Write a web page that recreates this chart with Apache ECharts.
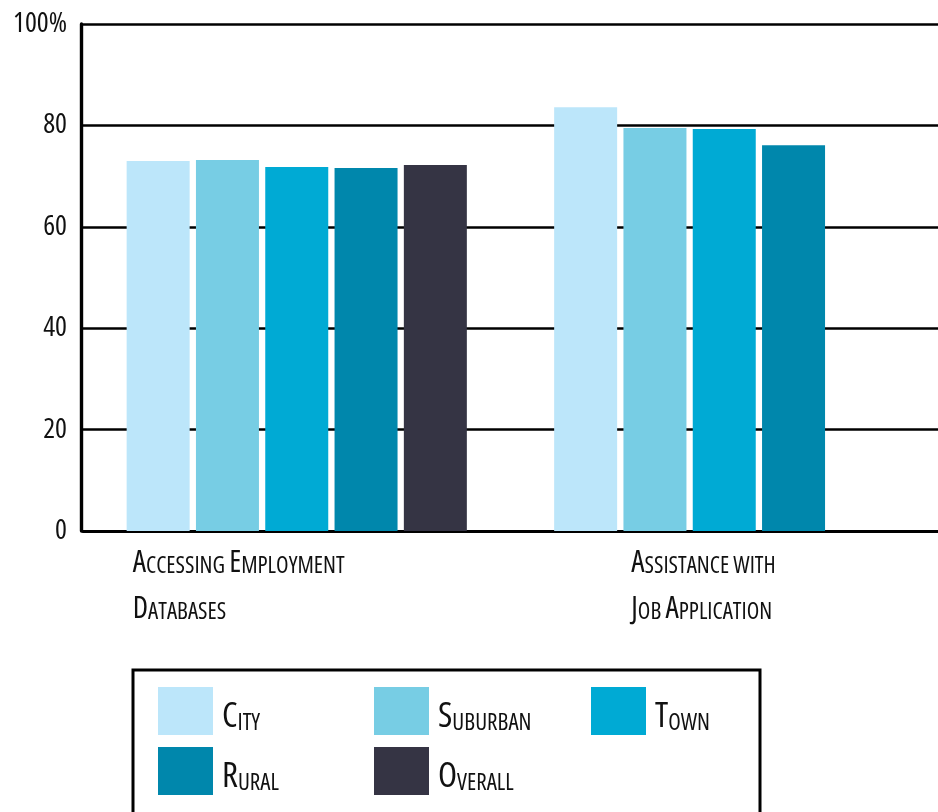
<!DOCTYPE html>
<html>
<head>
<meta charset="utf-8">
<script src="https://cdn.jsdelivr.net/npm/echarts@6/dist/echarts.min.js"></script>
<style>
  html, body { margin: 0; padding: 0; background: #fff; }
  #chart { width: 938px; height: 812px; }
</style>
</head>
<body>
<div id="chart"></div>
<script>
// Survey results by locale, percent of libraries offering each service
const categories = ['Accessing Employment\nDatabases', 'Assistance with\nJob Application'];
const seriesNames = ['City', 'Suburban', 'Town', 'Rural', 'Overall'];
const cityValues = [73.0, 83.6];
const suburbanValues = [73.2, 79.5];
const townValues = [71.8, 79.3];
const ruralValues = [71.6, 76.1];
const overallValues = [72.2, null];
const yTicks = [0, 20, 40, 60, 80, 100];

const seriesValues = [cityValues, suburbanValues, townValues, ruralValues, overallValues];
const colors = ['#bce6fa', '#77cde4', '#00aad4', '#0087ac', '#353444'];
const FAMILY = '"Open Sans", "DejaVu Sans", sans-serif';
const STRETCH = 'condensed';   // selects the condensed face through the font shorthand
const INK = '#111';

// Small-caps look: initial capitals large, the rest as smaller capitals
function smallCaps(text) {
  return text.split('\n').map(line => line.split(' ').map(word => {
    const first = word[0];
    if (first !== first.toLowerCase()) {
      return '{big|' + first + '}' + (word.length > 1 ? '{sm|' + word.slice(1).toUpperCase() + '}' : '');
    }
    return '{sm|' + word.toUpperCase() + '}';
  }).join('{sm| }')).join('\n');
}

function capsRich(bigSize, smSize, bigPadTop) {
  const base = { fontFamily: FAMILY, fontWeight: STRETCH, color: INK, fill: INK, verticalAlign: 'bottom' };
  return {
    big: Object.assign({}, base, { fontSize: bigSize, padding: [bigPadTop, 0, 0, 0] }),
    sm: Object.assign({}, base, { fontSize: smSize })
  };
}

const chart = echarts.init(document.getElementById('chart'), null, { renderer: 'canvas' });

// Legend laid out as three columns
const legendColumns = [['City', 'Rural'], ['Suburban', 'Overall'], ['Town']];
const legendLeft = [158, 374, 591];
const legends = legendColumns.map((names, i) => ({
  left: legendLeft[i],
  top: 687,
  orient: 'vertical',
  icon: 'rect',
  itemWidth: 55,
  itemHeight: 48,
  itemGap: 12,
  padding: 0,
  data: names,
  formatter: name => smallCaps(name),
  textStyle: {
    fontFamily: FAMILY,
    fontWeight: STRETCH,
    color: INK,
    padding: [13, 0, 0, 4],
    rich: capsRich(35, 23, 0)
  }
}));

chart.setOption({
  animation: false,
  color: colors,
  grid: { left: 83, right: 0, top: 24, bottom: 281, containLabel: false },
  xAxis: {
    type: 'category',
    data: categories,
    axisLine: { show: true, lineStyle: { color: '#000', width: 3 } },
    axisTick: { show: false },
    axisLabel: { show: false }
  },
  yAxis: {
    type: 'value',
    min: yTicks[0],
    max: yTicks[yTicks.length - 1],
    interval: yTicks[1] - yTicks[0],
    offset: 2,
    axisLine: { show: true, lineStyle: { color: '#000', width: 3.4 } },
    axisTick: { show: false },
    splitLine: { show: true, lineStyle: { color: '#000', width: 2.5 } },
    axisLabel: {
      margin: 14,
      fontFamily: FAMILY,
      fontWeight: STRETCH,
      fontSize: 28,
      color: INK,
      formatter: v => (v === yTicks[yTicks.length - 1] ? v + '%' : String(v))
    }
  },
  legend: legends,
  series: seriesNames.map((name, i) => ({
    name,
    type: 'bar',
    data: seriesValues[i],
    barWidth: 63,
    barGap: '10%',
    itemStyle: { color: colors[i] }
  }))
});

// Category captions below the axis, left-aligned and offset from each group centre
const captionShift = [-164, -93];
const captions = categories.map((cat, i) => {
  const cx = chart.convertToPixel({ xAxisIndex: 0 }, cat);
  return {
    type: 'text',
    x: cx + captionShift[i],
    y: 532,
    silent: true,
    style: {
      text: smallCaps(cat),
      fill: INK,
      font: 'normal ' + STRETCH + ' 23px ' + FAMILY,
      rich: capsRich(30, 23, 16)
    }
  };
});

// Frame around the legend
captions.push({
  type: 'rect',
  silent: true,
  shape: { x: 133, y: 670, width: 627, height: 200 },
  style: { fill: 'none', stroke: '#000', lineWidth: 3 }
});

chart.setOption({ graphic: captions });
</script>
</body>
</html>
